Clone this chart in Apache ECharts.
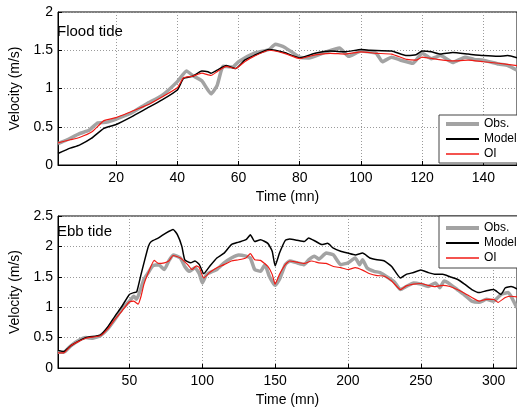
<!DOCTYPE html>
<html>
<head>
<meta charset="utf-8">
<script src="https://cdn.jsdelivr.net/npm/echarts@6/dist/echarts.min.js"></script>
<style>html,body{margin:0;padding:0;background:#fff}#c{width:517px;height:408px}</style>
</head>
<body>
<div id="c"></div>
<script>
// ---- Data (time in minutes, velocity in m/s) ----
const floodTicks = [20, 40, 60, 80, 100, 120, 140];
const ebbTicks = [50, 100, 150, 200, 250, 300];

const floodObs = [[1,0.28],[4,0.33],[8,0.41],[11,0.45],[14,0.55],[17,0.56],[20,0.6],[25,0.68],[30,0.8],[35,0.91],[40,1.09],[43,1.23],[45,1.17],[48,1.1],[51,0.93],[53,1.04],[55,1.29],[58,1.28],[60,1.35],[65,1.46],[70,1.51],[72,1.58],[75,1.54],[80,1.41],[83,1.4],[88,1.47],[93,1.53],[96,1.42],[100,1.49],[105,1.46],[107,1.35],[110,1.41],[113,1.37],[117,1.33],[120,1.46],[123,1.39],[126,1.43],[130,1.34],[134,1.41],[137,1.38],[140,1.37],[145,1.32],[148,1.30],[151,1.24]];
const floodModel = [[1,0.15],[5,0.22],[8,0.26],[12,0.35],[16,0.48],[20,0.53],[25,0.63],[30,0.74],[35,0.85],[40,0.98],[42,1.13],[45,1.16],[48,1.23],[50,1.22],[51,1.2],[53,1.24],[56,1.3],[59,1.26],[62,1.37],[65,1.43],[70,1.51],[75,1.47],[80,1.40],[85,1.46],[90,1.49],[95,1.48],[100,1.51],[103,1.50],[110,1.49],[115,1.43],[118,1.44],[120,1.49],[123,1.48],[126,1.45],[130,1.47],[135,1.45],[140,1.43],[145,1.42],[148,1.43],[151,1.40]];
const floodOI = [[1,0.29],[5,0.33],[8,0.36],[12,0.43],[16,0.58],[20,0.62],[25,0.70],[30,0.78],[35,0.89],[40,1.01],[42,1.14],[45,1.16],[48,1.2],[51,1.17],[53,1.22],[56,1.29],[59,1.26],[62,1.35],[65,1.42],[70,1.50],[75,1.46],[80,1.39],[85,1.44],[90,1.46],[95,1.45],[100,1.48],[105,1.46],[110,1.45],[115,1.38],[118,1.37],[120,1.41],[125,1.38],[130,1.36],[135,1.37],[140,1.35],[145,1.33],[151,1.30]];

const ebbObs = [[1,0.26],[5,0.26],[10,0.37],[15,0.45],[20,0.5],[25,0.49],[30,0.53],[35,0.64],[40,0.8],[45,0.97],[50,1.1],[53,1.18],[55,1.13],[58,1.32],[60,1.46],[63,1.57],[66,1.68],[70,1.70],[74,1.62],[77,1.76],[80,1.86],[85,1.81],[88,1.67],[91,1.59],[95,1.65],[98,1.55],[100,1.40],[103,1.54],[107,1.59],[110,1.62],[115,1.73],[120,1.81],[125,1.86],[130,1.84],[133,1.81],[136,1.62],[140,1.59],[143,1.70],[146,1.51],[150,1.36],[153,1.46],[157,1.70],[160,1.76],[165,1.73],[170,1.70],[173,1.78],[177,1.84],[180,1.79],[185,1.89],[190,1.86],[195,1.70],[200,1.73],[205,1.81],[208,1.70],[210,1.78],[213,1.65],[218,1.59],[222,1.57],[228,1.48],[232,1.41],[236,1.29],[240,1.34],[245,1.40],[250,1.38],[255,1.34],[260,1.40],[263,1.32],[266,1.43],[270,1.38],[275,1.29],[280,1.20],[285,1.10],[290,1.08],[295,1.13],[300,1.10],[305,1.21],[310,1.24],[313,1.13],[316,0.99]];
const ebbModel = [[1,0.29],[5,0.27],[10,0.37],[20,0.5],[30,0.54],[35,0.67],[40,0.85],[45,1.02],[50,1.21],[53,1.24],[55,1.25],[58,1.54],[60,1.73],[63,2.0],[65,2.08],[70,2.14],[75,2.22],[80,2.28],[83,2.19],[86,2.0],[88,1.78],[92,1.73],[95,1.76],[98,1.70],[101,1.55],[105,1.67],[110,1.81],[115,1.89],[120,2.03],[125,2.07],[130,2.11],[133,2.19],[136,2.08],[140,2.11],[145,2.05],[148,1.92],[150,1.68],[153,1.89],[157,2.10],[160,2.12],[165,2.10],[170,2.08],[173,2.14],[178,2.08],[182,2.03],[186,2.05],[190,1.97],[195,1.92],[200,1.89],[205,1.86],[210,1.89],[215,1.81],[220,1.78],[225,1.76],[230,1.67],[236,1.48],[240,1.54],[245,1.57],[250,1.61],[255,1.57],[260,1.54],[265,1.54],[270,1.50],[275,1.46],[280,1.38],[285,1.29],[290,1.24],[295,1.27],[300,1.29],[305,1.21],[308,1.32],[312,1.34],[316,1.30]];
const ebbOI = [[1,0.25],[5,0.25],[10,0.37],[20,0.49],[30,0.53],[35,0.64],[40,0.8],[45,0.94],[50,1.09],[53,1.10],[56,1.05],[58,1.18],[60,1.38],[63,1.57],[67,1.77],[70,1.72],[74,1.73],[77,1.76],[80,1.85],[85,1.81],[90,1.70],[93,1.62],[96,1.68],[98,1.65],[101,1.48],[105,1.57],[110,1.65],[115,1.70],[120,1.76],[125,1.78],[130,1.81],[133,1.88],[136,1.78],[140,1.77],[145,1.67],[148,1.54],[150,1.38],[153,1.54],[157,1.70],[160,1.76],[165,1.74],[170,1.72],[175,1.76],[180,1.73],[185,1.72],[190,1.67],[195,1.65],[200,1.62],[205,1.65],[210,1.61],[215,1.55],[220,1.52],[225,1.51],[230,1.43],[236,1.29],[240,1.35],[245,1.38],[250,1.39],[255,1.36],[260,1.34],[265,1.36],[270,1.34],[275,1.29],[280,1.23],[285,1.16],[290,1.10],[295,1.13],[300,1.13],[303,1.08],[308,1.16],[312,1.18],[316,1.17]];

// ---- Chart ----
const FONT = 'Liberation Sans, Arial, sans-serif';
const seriesNames = ['Obs.', 'Model', 'OI'];
const styles = [
  {color: '#a3a3a3', width: 3.5},
  {color: '#000000', width: 1.5},
  {color: '#f01a14', width: 1.2}
];

function xAxis(gridIndex, min, max, ticks) {
  return {
    type: 'value', gridIndex, min, max,
    name: 'Time (mn)', nameLocation: 'middle', nameGap: 25,
    nameTextStyle: {fontSize: 14, color: '#000', fontFamily: FONT},
    axisLine: {lineStyle: {color: '#000', width: 1}},
    axisTick: {inside: true, length: 4, customValues: ticks, lineStyle: {color: '#000'}},
    axisLabel: {customValues: ticks, fontSize: 14, color: '#000', fontFamily: FONT, margin: 6},
    splitLine: {show: true, lineStyle: {color: '#9a9a9a', type: [1, 2], width: 1}}
  };
}
function yAxis(gridIndex, max) {
  return {
    type: 'value', gridIndex, min: 0, max, interval: 0.5,
    name: 'Velocity (m/s)', nameLocation: 'middle', nameGap: 36,
    nameTextStyle: {fontSize: 14, color: '#000', fontFamily: FONT},
    axisLine: {show: true, lineStyle: {color: '#000', width: 1}},
    axisTick: {show: true, inside: true, length: 4, lineStyle: {color: '#000'}},
    axisLabel: {fontSize: 14, color: '#000', fontFamily: FONT, margin: 5},
    splitLine: {show: true, lineStyle: {color: '#9a9a9a', type: [1, 2], width: 1}}
  };
}
function lineSeries(name, idx, data, axisIdx) {
  return {
    name, type: 'line', data, xAxisIndex: axisIdx, yAxisIndex: axisIdx,
    showSymbol: false, symbol: 'none', smooth: 0.15, animation: false,
    lineStyle: {color: styles[idx].color, width: styles[idx].width},
    itemStyle: {color: styles[idx].color},
    z: 2 + idx
  };
}
const legendBase = {
  orient: 'vertical',
  data: seriesNames.map((n, i) => ({name: n, lineStyle: {width: styles[i].width + 0.5, color: styles[i].color}})),
  borderColor: '#444', borderWidth: 1, backgroundColor: '#fff',
  itemWidth: 33, itemHeight: 12, itemGap: 3,
  itemStyle: {opacity: 0},
  textStyle: {fontSize: 12, color: '#000', fontFamily: FONT},
  selectedMode: false
};

const chart = echarts.init(document.getElementById('c'), null, {renderer: 'canvas'});
chart.setOption({
  animation: false,
  backgroundColor: '#fff',
  title: [
    {text: 'Flood tide', left: 57, top: 24, padding: 0, textStyle: {fontSize: 15, fontWeight: 'normal', color: '#000', fontFamily: FONT}},
    {text: 'Ebb tide', left: 57, top: 224, padding: 0, textStyle: {fontSize: 15, fontWeight: 'normal', color: '#000', fontFamily: FONT}}
  ],
  legend: [
    Object.assign({}, legendBase, {left: 439, top: 115, padding: [3, 8, 3, 5]}),
    Object.assign({}, legendBase, {left: 439, top: 216, padding: [6, 8, 4, 5]})
  ],
  grid: [
    {left: 51, top: 12, right: 0, height: 153, show: true, borderColor: '#000', borderWidth: 1, containLabel: false},
    {left: 51, top: 216, right: 0, height: 154, show: true, borderColor: '#000', borderWidth: 1, containLabel: false}
  ],
  xAxis: [xAxis(0, 1, 151, floodTicks), xAxis(1, 1, 316, ebbTicks)],
  yAxis: [yAxis(0, 2), yAxis(1, 2.5)],
  series: [
    lineSeries('Obs.', 0, floodObs, 0),
    lineSeries('Model', 1, floodModel, 0),
    lineSeries('OI', 2, floodOI, 0),
    lineSeries('Obs.', 0, ebbObs, 1),
    lineSeries('Model', 1, ebbModel, 1),
    lineSeries('OI', 2, ebbOI, 1)
  ]
});
</script>
</body>
</html>
